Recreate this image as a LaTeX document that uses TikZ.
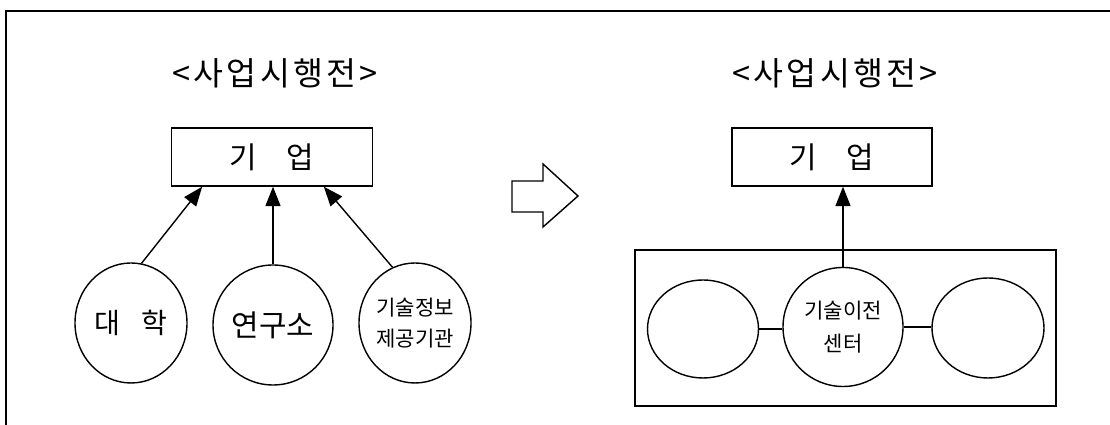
\documentclass[tikz,border=0pt]{standalone}
\usepackage{fontspec}
\setmainfont{Noto Sans CJK KR}
\usetikzlibrary{arrows.meta,shapes.geometric,calc}

\begin{document}
\begin{tikzpicture}[
  box/.style={rectangle, draw, line width=0.8pt, minimum width=4.02cm, minimum height=1.16cm, inner sep=0pt, font=\fontsize{17}{20}\selectfont},
  org/.style={ellipse, draw, line width=0.8pt, inner sep=0pt, minimum width=2.24cm, minimum height=2.4cm},
  wire/.style={-{Triangle[length=11pt, width=8.5pt]}, line width=0.8pt},
  link/.style={line width=0.8pt},
  title/.style={font=\fontsize{18.5}{22}\selectfont\addfontfeature{LetterSpace=10}}
]
\useasboundingbox (0,0) rectangle (22.2,8.5);

% Outer frame (cut off at right and bottom)
\draw[line width=0.9pt] (0.12,0) -- (0.12,8.28) -- (22.2,8.28);

% Left diagram: before
\node[title] (titleL) at (5.5,7.04) {<사업시행전>};
\node[box] (firmL) at (5.44,5.36) {기\quad 업};
\node[org, font=\fontsize{16}{19}\selectfont] (univ) at (2.62,2.04) {대\hspace{0.75em}학};
\node[org, minimum width=2.4cm, font=\fontsize{17}{20}\selectfont] (lab) at (5.46,2.0) {연구소};
\node[org, align=center, font=\fontsize{12}{18}\selectfont] (info) at (8.3,2.04) {기술정보\\제공기관};

% Arrows into the firm
\draw[wire] (univ.80) -- ($(firmL.south west)!0.155!(firmL.south east)$);
\draw[wire] (lab.north) -- (lab.north |- firmL.south);
\draw[wire] (info.112) -- ($(firmL.south west)!0.756!(firmL.south east)$);

% Hollow arrow in the middle
\draw[line width=0.8pt] (10.24,4.88) -- (10.86,4.88) -- (10.86,5.22) -- (11.56,4.58)
  -- (10.86,3.96) -- (10.86,4.26) -- (10.24,4.26) -- cycle;

% Right diagram: with the transfer center
\node[title] (titleR) at (16.7,7.04) {<사업시행전>};
\node[box, minimum width=4cm] (firmR) at (16.64,5.36) {기\quad 업};
\node[rectangle, draw, line width=0.8pt, minimum width=8.42cm, minimum height=3.12cm] (group) at (16.91,1.94) {};
\node[org, minimum width=2.4cm, minimum height=2.38cm, align=center, font=\fontsize{12}{19}\selectfont] (tc) at (16.86,1.96) {기술이전\\센터};
\node[org, minimum width=2.22cm, minimum height=1.96cm] (sideL) at (14.06,1.92) {};
\node[org, minimum height=2cm] (sideR) at (19.76,1.94) {};

\draw[wire] (tc.north) -- (tc.north |- firmR.south);
\draw[link] (sideL.east) -- (sideL.east -| tc.west);
\draw[link] (tc.east) -- (tc.east -| sideR.west);

\end{tikzpicture}
\end{document}
